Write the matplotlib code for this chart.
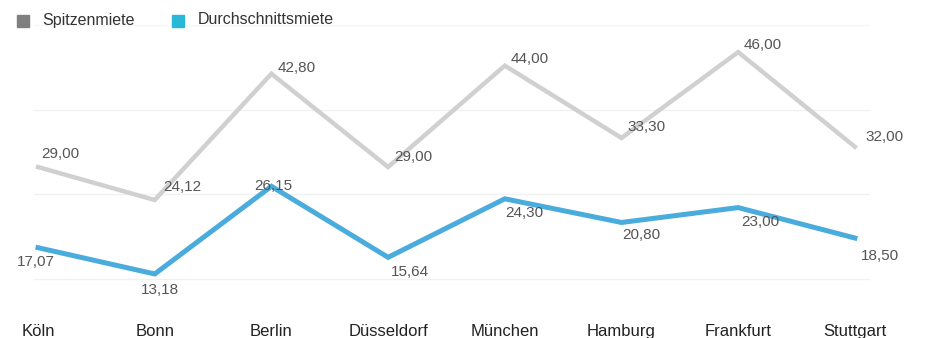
import matplotlib
matplotlib.use("Agg")
import matplotlib.pyplot as plt
from matplotlib.patches import Rectangle

# Daten
staedte = ["Köln", "Bonn", "Berlin", "Düsseldorf", "München", "Hamburg", "Frankfurt", "Stuttgart"]
spitzenmiete = [29.00, 24.12, 42.80, 29.00, 44.00, 33.30, 46.00, 32.00]
durchschnittsmiete = [17.07, 13.18, 26.15, 15.64, 24.30, 20.80, 23.00, 18.50]

plt.rcParams['font.family'] = ['Liberation Sans', 'DejaVu Sans']

W, H = 926, 338
fig = plt.figure(figsize=(W / 100, H / 100), dpi=100)
ax = fig.add_axes([0, 38 / H, 1, 280 / H])

x = list(range(len(staedte)))
ax.set_xlim(-38 / 116.7, (W - 38) / 116.7)
ax.set_ylim(9.33, 50.75)

# Gitterlinien
for g in [12.5, 25, 37.5]:
    ax.plot([-0.03, 7.12], [g, g], color="#f1f1f1", lw=1, zorder=0)
ax.plot([-0.03, 7.12], [50, 50], color="#f6f6f6", lw=1, zorder=0)

ax.plot(x, spitzenmiete, color="#d0d0d0", lw=3.2, solid_joinstyle="miter", zorder=2)
ax.plot(x, durchschnittsmiete, color="#4aabdd", lw=3.6, solid_joinstyle="miter", zorder=3)

def fmt(v):
    return f"{v:.2f}".replace(".", ",")

# Beschriftungen (Offsets in Pixeln -> Punkte)
off_s = [(22, 13), (28, 13), (25, 6), (25, 10), (25, 7), (25, 11), (24, 7), (30, 10)]
off_d = [(-2, -14), (5, -16), (2, 0), (22, -15), (20, -14), (20, -13), (22, -14), (25, -18)]
for i, v in enumerate(spitzenmiete):
    ax.annotate(fmt(v), (i, v), xytext=(off_s[i][0] * 0.72, off_s[i][1] * 0.72),
                textcoords="offset points", ha="center", va="center",
                fontsize=11, color="#555555", zorder=5)
for i, v in enumerate(durchschnittsmiete):
    ax.annotate(fmt(v), (i, v), xytext=(off_d[i][0] * 0.72, off_d[i][1] * 0.72),
                textcoords="offset points", ha="center", va="center",
                fontsize=11, color="#555555", zorder=5)

ax.set_xticks(x)
ax.set_xticklabels(staedte, fontsize=12, color="#222222")
ax.tick_params(axis="x", length=0, pad=17)
ax.set_yticks([])
for s in ax.spines.values():
    s.set_visible(False)

# Legende
fig.patches.append(Rectangle((17 / W, 1 - 27 / H), 12 / W, 12 / H, transform=fig.transFigure,
                             color="#7f7f7f", figure=fig))
fig.text(42 / W, 1 - 20 / H, "Spitzenmiete", fontsize=11.5, va="center", color="#333333")
fig.patches.append(Rectangle((172 / W, 1 - 27 / H), 12 / W, 12 / H, transform=fig.transFigure,
                             color="#29b8d8", figure=fig))
fig.text(198 / W, 1 - 20 / H, "Durchschnittsmiete", fontsize=11.5, va="center", color="#333333")

fig.savefig("out.png", dpi=100)
